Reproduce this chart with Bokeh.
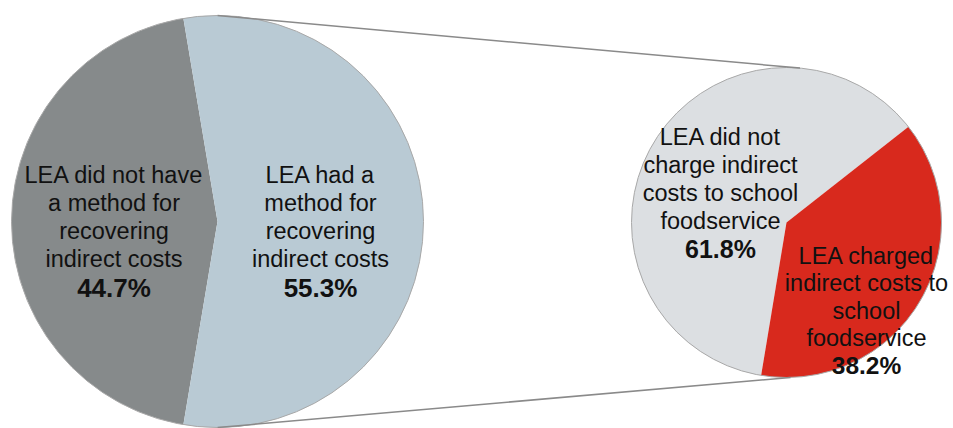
import numpy as np
from bokeh.plotting import figure
from bokeh.models import Range1d, ColumnDataSource
from bokeh.core.properties import value
from bokeh.embed import file_html
from bokeh.resources import INLINE

# ---------------- data ----------------
main_labels = ["LEA did not have\na method for\nrecovering\nindirect costs",
               "LEA had a\nmethod for\nrecovering\nindirect costs"]
main_values = [44.7, 55.3]
main_colors = ["#868a8b", "#b9cad4"]

sub_labels = ["LEA did not\ncharge indirect\ncosts to school\nfoodservice",
              "LEA charged\nindirect costs to\nschool\nfoodservice"]
sub_values = [61.8, 38.2]
sub_colors = ["#dcdfe2", "#d8291d"]

# ---------------- layout ----------------
W, H = 953, 428

def Y(ys):
    return H - ys

main_c = (217, Y(221)); main_r = 206
sub_c = (786, Y(222)); sub_r = 155
sub_start_deg = 38.1

FONT = value("Liberation Sans")

p = figure(width=W, height=H, output_backend="svg", toolbar_location=None,
           x_range=Range1d(0, W), y_range=Range1d(0, H),
           min_border=0, min_border_left=0, min_border_right=0,
           min_border_top=0, min_border_bottom=0)
p.axis.visible = False
p.grid.visible = False
p.outline_line_color = None
p.background_fill_color = "white"
p.border_fill_color = "white"

# main pie: larger slice centred on the right (east)
fr = np.array(main_values) / sum(main_values)
start0 = np.pi * fr[1]
starts = start0 + np.concatenate([[0], np.cumsum(fr)[:-1]]) * 2 * np.pi
ends = start0 + np.cumsum(fr) * 2 * np.pi
src_main = ColumnDataSource(dict(x=[main_c[0]] * 2, y=[main_c[1]] * 2,
                                 s=starts, e=ends, c=main_colors))
p.wedge(x="x", y="y", radius=main_r, start_angle="s", end_angle="e",
        fill_color="c", line_color=None, source=src_main)

# sub pie
fs = np.array(sub_values) / sum(sub_values)
s0 = np.deg2rad(sub_start_deg)
sstarts = s0 + np.concatenate([[0], np.cumsum(fs)[:-1]]) * 2 * np.pi
sends = s0 + np.cumsum(fs) * 2 * np.pi
src_sub = ColumnDataSource(dict(x=[sub_c[0]] * 2, y=[sub_c[1]] * 2,
                                s=sstarts, e=sends, c=sub_colors))
p.wedge(x="x", y="y", radius=sub_r, start_angle="s", end_angle="e",
        fill_color="c", line_color=None, source=src_sub)

# outlines
p.circle(x=[main_c[0], sub_c[0]], y=[main_c[1], sub_c[1]],
         radius=[main_r, sub_r], fill_color=None, line_color="#a8a8a8",
         line_width=1)

# connector lines (pie top/bottom to sub pie edge)
top_a = np.deg2rad(85); bot_a = np.deg2rad(-88.5)
p.line(x=[main_c[0], sub_c[0] + sub_r * np.cos(top_a)],
       y=[main_c[1] + main_r, sub_c[1] + sub_r * np.sin(top_a)],
       line_color="#8a8a8a", line_width=1.5)
p.line(x=[main_c[0], sub_c[0] + sub_r * np.cos(bot_a)],
       y=[main_c[1] - main_r, sub_c[1] + sub_r * np.sin(bot_a)],
       line_color="#8a8a8a", line_width=1.5)

# labels
anchors = [(113.5, 174, 28.3, "26px"), (320, 174, 28.3, "26px"),
           (720, 136, 28.0, "25px"), (866, 255, 27.5, "24.5px")]
labels = main_labels + sub_labels
vals = main_values + sub_values
rx, ry, rt = [], [], []
bx, by, bt, bs = [], [], [], []
for (ax, ay, sp, psize), lab, v in zip(anchors, labels, vals):
    lines = lab.split("\n")
    for i, ln in enumerate(lines):
        rx.append(ax); ry.append(Y(ay + i * sp)); rt.append(ln)
    bx.append(ax); by.append(Y(ay + len(lines) * sp)); bt.append(f"{v:.1f}%"); bs.append(psize)

p.text(x=rx, y=ry, text=rt, text_align="center", text_baseline="alphabetic",
       text_font=FONT, text_font_size="23.5px", text_color="#111111")
p.text(x=bx, y=by, text=bt, text_align="center", text_baseline="alphabetic",
       text_font=FONT, text_font_size=bs, text_font_style="bold",
       text_color="#111111")

open("out.html", "w").write(file_html(p, INLINE))
